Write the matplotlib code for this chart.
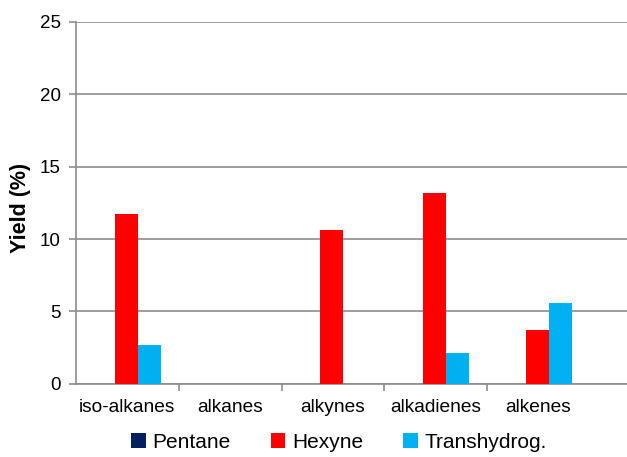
import numpy as np
import matplotlib.pyplot as plt
from matplotlib.patches import Patch

plt.rcParams['font.family'] = ['Liberation Sans', 'DejaVu Sans']

categories = ['iso-alkanes', 'alkanes', 'alkynes', 'alkadienes', 'alkenes']
pentane = [0, 0, 0, 0, 0]
hexyne = [11.7, 0, 10.6, 13.2, 3.7]
transhydrog = [2.7, 0, 0, 2.1, 5.6]

series = [('Pentane', pentane, '#002060'),
          ('Hexyne', hexyne, '#FF0000'),
          ('Transhydrog.', transhydrog, '#00B0F0')]

fig = plt.figure(figsize=(6.27, 4.57), dpi=100)
ax = fig.add_axes([0.121, 0.16, 0.879, 0.792])

x = np.arange(len(categories))
w = 0.223
for i, (name, vals, col) in enumerate(series):
    ax.bar(x + (i - 1) * w - 0.01, vals, w, color=col, zorder=3)

grid_col = '#8c8c8c'
ax.set_ylim(0, 25)
ax.set_yticks(range(0, 26, 5))
ax.yaxis.grid(True, color=grid_col, linewidth=1.2, zorder=0)
ax.set_xlim(-0.5, 4.86)
ax.set_xticks(x)
ax.set_xticklabels(categories)
ax.set_xticks(np.arange(0.5, 3.6, 1), minor=True)
ax.tick_params(axis='x', which='major', length=0, labelsize=13.8, pad=11)
ax.tick_params(axis='x', which='minor', length=5, color=grid_col, width=1.2)
ax.tick_params(axis='y', length=5, color=grid_col, width=1.2, labelsize=13.5, pad=6)

for s in ['top', 'right']:
    ax.spines[s].set_visible(False)
for s in ['left', 'bottom']:
    ax.spines[s].set_color(grid_col)
    ax.spines[s].set_linewidth(1.2)

ax.set_ylabel('Yield (%)', fontsize=15.5, fontweight='bold')
ax.yaxis.set_label_coords(-0.081, 0.485)

handles = [Patch(facecolor=c, label=n) for n, _, c in series]
fig.legend(handles=handles, loc='lower center', bbox_to_anchor=(0.541, -0.03),
           ncol=3, frameon=False, fontsize=15, handlelength=0.7, handleheight=0.7,
           handletextpad=0.33, columnspacing=1.92)

fig.savefig('out.png', dpi=100)
